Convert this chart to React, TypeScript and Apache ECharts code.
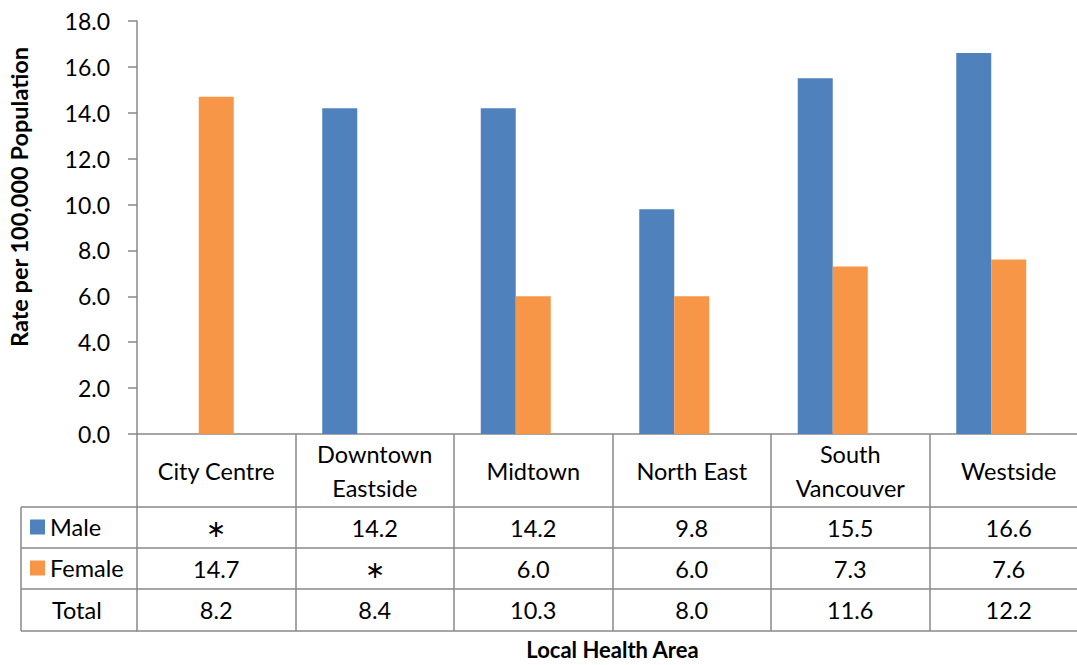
import React, { useEffect, useRef } from "react";
import * as echarts from "echarts";

const categories = ["City Centre", "Downtown\nEastside", "Midtown", "North East", "South\nVancouver", "Westside"];
const maleValues: (number | null)[] = [null, 14.2, 14.2, 9.8, 15.5, 16.6];
const femaleValues: (number | null)[] = [14.7, null, 6.0, 6.0, 7.3, 7.6];
const totalValues: (number | null)[] = [8.2, 8.4, 10.3, 8.0, 11.6, 12.2];
const seriesNames = ["Male", "Female", "Total"];
const yMin = 0;
const yMax = 18;
const yInterval = 2;

const FONT = "Lato, 'Open Sans', sans-serif";
const GRID = { left: 137, top: 21, width: 951, height: 413 };
const ROWS = [73, 41, 41, 42]; // header, male, female, total
const LINE = "#898989";
const LW = 1.5;
const FS = 23.5;

const fmt = (v: number | null) => (v === null ? "\u2217" : v.toFixed(1));

export default function App() {
  const ref = useRef<HTMLDivElement>(null);
  useEffect(() => {
    document.body.style.margin = "0";
    const chart = echarts.init(ref.current!, null, { renderer: "svg" });
    const bottom = GRID.top + GRID.height;
    const rowTops: number[] = [];
    let acc = 0;
    ROWS.forEach((h) => {
      rowTops.push(acc);
      acc += h;
    });
    const tableH = acc;
    const valueRows = [maleValues, femaleValues, totalValues];
    const lineStyle = { color: LINE, width: LW };

    const xAxes: any[] = [
      {
        type: "category",
        data: categories,
        position: "bottom",
        axisLine: { show: true, lineStyle },
        axisTick: { show: true, length: tableH, interval: 0, lineStyle },
        axisLabel: {
          interval: 0,
          margin: ROWS[0] / 2,
          verticalAlign: "middle",
          lineHeight: 34,
          fontSize: FS,
          fontFamily: FONT,
          color: "#000",
        },
      },
    ];
    valueRows.forEach((vals, r) => {
      xAxes.push({
        type: "category",
        data: categories,
        position: "bottom",
        offset: rowTops[r + 1],
        axisLine: { show: true, lineStyle },
        axisTick: { show: false },
        axisLabel: {
          interval: 0,
          margin: ROWS[r + 1] / 2,
          verticalAlign: "middle",
          fontSize: FS,
          fontFamily: FONT,
          color: "#000",
          formatter: (_v: string, i: number) => fmt(vals[i]),
        },
      });
    });
    xAxes.push({
      type: "category",
      data: categories,
      position: "bottom",
      offset: tableH,
      axisLine: { show: true, lineStyle },
      axisTick: { show: false },
      axisLabel: { show: false },
      name: "Local Health Area",
      nameLocation: "middle",
      nameGap: 7,
      nameTextStyle: { fontFamily: FONT, fontWeight: "bold", fontSize: 22, lineHeight: 22, color: "#000" },
    });

    const leftX = 21;
    const graphic: any[] = [
      {
        type: "line",
        shape: { x1: leftX, y1: bottom + rowTops[1], x2: leftX, y2: bottom + tableH },
        style: { stroke: LINE, lineWidth: LW },
      },
    ];
    [rowTops[1], rowTops[2], rowTops[3], tableH].forEach((t) => {
      graphic.push({
        type: "line",
        shape: { x1: leftX, y1: bottom + t, x2: GRID.left, y2: bottom + t },
        style: { stroke: LINE, lineWidth: LW },
      });
    });
    graphic.push({
      type: "text",
      x: 52,
      y: bottom + rowTops[3] + ROWS[3] / 2,
      style: {
        text: seriesNames[2],
        font: `${FS}px ${FONT}`,
        fill: "#000",
        verticalAlign: "middle",
        align: "left",
      },
    });
    graphic.push({
      type: "text",
      x: 19,
      y: 197,
      rotation: Math.PI / 2,
      style: {
        text: "Rate per 100,000 Population",
        font: `bold 23.5px ${FONT}`,
        fill: "#000",
        align: "center",
        verticalAlign: "middle",
      },
    });

    chart.setOption({
      animation: false,
      grid: {
        left: GRID.left,
        top: GRID.top,
        width: GRID.width,
        height: GRID.height,
        containLabel: false,
        outerBoundsMode: "none",
      },
      legend: {
        data: [seriesNames[0], seriesNames[1]],
        orient: "vertical",
        left: 30,
        top: bottom + rowTops[1] + 8,
        padding: 0,
        itemWidth: 15,
        itemHeight: 15,
        itemGap: 17,
        icon: "rect",
        selectedMode: false,
        textStyle: { fontSize: FS, fontFamily: FONT, color: "#000", lineHeight: 24 },
      },
      xAxis: xAxes,
      yAxis: {
        type: "value",
        min: yMin,
        max: yMax,
        interval: yInterval,
        axisLine: { show: true, lineStyle },
        axisTick: { show: true, length: 9, lineStyle },
        splitLine: { show: false },
        axisLabel: {
          margin: 27,
          fontSize: 23,
          fontFamily: FONT,
          color: "#000",
          formatter: (v: number) => v.toFixed(1),
        },
      },
      graphic,
      series: [
        { name: seriesNames[0], type: "bar", data: maleValues, barWidth: 35, barGap: "0%", itemStyle: { color: "#4F81BD" } },
        { name: seriesNames[1], type: "bar", data: femaleValues, barWidth: 35, barGap: "0%", itemStyle: { color: "#F79646" } },
        { name: seriesNames[2], type: "bar", data: totalValues.map(() => null), barWidth: 35, barGap: "0%" },
      ],
    });
    return () => chart.dispose();
  }, []);
  return <div ref={ref} style={{ width: 1077, height: 665 }} />;
}
